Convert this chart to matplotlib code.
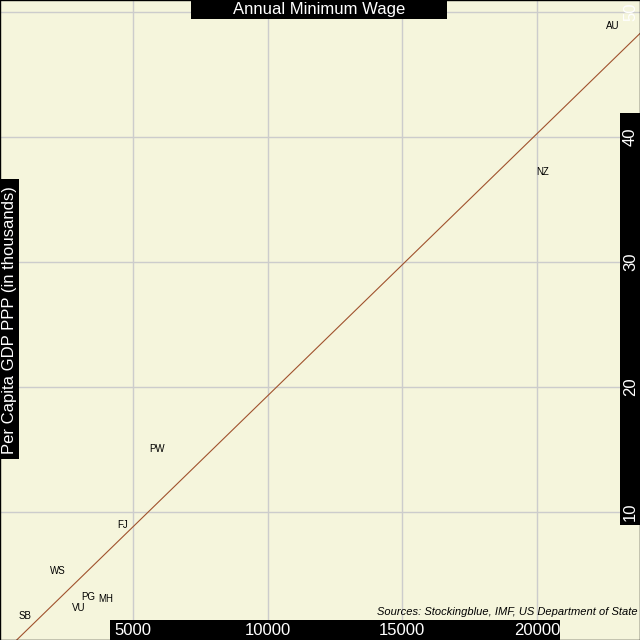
import numpy as np
import matplotlib
matplotlib.use("Agg")
import matplotlib.pyplot as plt
from matplotlib.patches import Rectangle

plt.rcParams['font.family'] = ['Liberation Sans', 'DejaVu Sans']

codes = ["SB", "WS", "VU", "PG", "MH", "FJ", "PW", "NZ", "AU"]
wage = [990, 2215, 3000, 3330, 4000, 4630, 5900, 20200, 22800]
gdp = [1.7, 5.3, 2.3, 3.2, 3.0, 9.0, 15.0, 37.2, 48.9]
xticks = [5000, 10000, 15000, 20000]
yticks = [10, 20, 30, 40, 50]
title = "Annual Minimum Wage"
ylabel = "Per Capita GDP PPP (in thousands)"
source = "Sources: Stockingblue, IMF, US Department of State"

bg = "#f5f5dc"
fig = plt.figure(figsize=(6.4, 6.4), dpi=100, facecolor=bg)
ax = fig.add_axes([0, 0, 1, 1])
ax.set_facecolor(bg)
ax.set_xlim(62, 23825)
ax.set_ylim(-0.24, 50.96)

ax.set_xticks(xticks)
ax.set_yticks(yticks)
ax.grid(True, color="#cccccc", lw=1)
ax.tick_params(length=0, labelbottom=False, labelleft=False)
for s in ax.spines.values():
    s.set_color("black")
    s.set_linewidth(1)

# regression line
k, b = np.polyfit(wage, gdp, 1)
xs = np.array([0, 25000])
ax.plot(xs, k * xs + b, color="#a0522d", lw=0.8, zorder=2)

for c, x, y in zip(codes, wage, gdp):
    ax.text(x, y, c, fontsize=7, ha="center", va="center", color="black", zorder=3)

# boxes
def box(x0, y0, x1, y1):
    ax.add_patch(Rectangle((x0, y0), x1 - x0, y1 - y0, transform=ax.transAxes,
                           facecolor="black", edgecolor="none", zorder=4, clip_on=False))

box(0.298, 0.970, 0.698, 1.0)
ax.text(0.498, 0.985, title, transform=ax.transAxes, ha="center", va="center",
        color="white", fontsize=12, zorder=5)

box(0.172, 0.0, 0.875, 0.031)
for t in xticks:
    ax.text(t, 0.0141, str(t), transform=ax.get_xaxis_transform(), ha="center",
            va="center", color="white", fontsize=12, zorder=5)

box(0.969, 0.180, 1.0, 0.823)
for t in yticks:
    ax.text(0.985, t, str(t), transform=ax.get_yaxis_transform(), ha="center",
            va="center", color="white", fontsize=12, rotation=90, zorder=5)

box(0.0, 0.283, 0.029, 0.720)
ax.text(0.0155, 0.5, ylabel, transform=ax.transAxes, ha="center", va="center",
        color="white", fontsize=12, rotation=90, zorder=5)

ax.text(0.997, 0.044, source, transform=ax.transAxes, ha="right", va="center",
        fontsize=8, style="italic", color="black", zorder=5)

fig.savefig("out.png", dpi=100, facecolor=bg)
